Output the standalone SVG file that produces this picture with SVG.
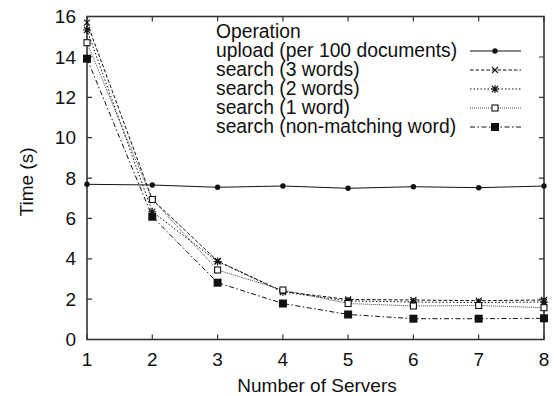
<svg xmlns="http://www.w3.org/2000/svg" xmlns:xlink="http://www.w3.org/1999/xlink" width="554" height="396" viewBox="0 0 554 396">
<style>
text{font-family:"Liberation Sans",Arial,sans-serif;font-size:19px;fill:#111}
#legend text{font-size:19.3px}
.yl{text-anchor:end}
.xl{text-anchor:middle}
.frame{fill:none;stroke:#333;stroke-width:1.6}
.tick{stroke:#333;stroke-width:1.2}
.s{fill:none;stroke:#111;stroke-width:1}
.up{}
.w3{stroke-dasharray:3.5 2}
.w2{stroke-dasharray:1.5 2}
.w1{stroke-dasharray:1 1;stroke:#444}
.nm{stroke-dasharray:5 2.5 1.5 2.5}
</style>
<defs>
<circle id="mdot" r="2.7" fill="#111"/>
<path id="mx" d="M-3,-3L3,3M-3,3L3,-3" stroke="#111" stroke-width="1.1" fill="none"/>
<path id="mast" d="M-3,-3L3,3M-3,3L3,-3M-4,0H4M0,-4V4" stroke="#111" stroke-width="1.1" fill="none"/>
<rect id="mosq" x="-3" y="-3" width="6" height="6" fill="#fff" stroke="#111" stroke-width="1.1"/>
<rect id="mfsq" x="-4" y="-4" width="8" height="8" fill="#111"/>
</defs>
<rect width="554" height="396" fill="#fff"/>
<g id="axes">
<rect class="frame" x="87" y="16.5" width="457" height="323"/>
<path class="tick" d="M87,339.5h5M87,299.1h5M87,258.8h5M87,218.4h5M87,178.1h5M87,137.7h5M87,97.4h5M87,57h5M87,16.5h5M544,339.5h-5M544,299.1h-5M544,258.8h-5M544,218.4h-5M544,178.1h-5M544,137.7h-5M544,97.4h-5M544,57h-5M544,16.5h-5M87,339.5v-5M152.3,339.5v-5M217.6,339.5v-5M282.9,339.5v-5M348.1,339.5v-5M413.4,339.5v-5M478.7,339.5v-5M544,339.5v-5M87,16.5v5M152.3,16.5v5M217.6,16.5v5M282.9,16.5v5M348.1,16.5v5M413.4,16.5v5M478.7,16.5v5M544,16.5v5"/>
<text class="yl" x="76" y="346">0</text>
<text class="yl" x="76" y="305.6">2</text>
<text class="yl" x="76" y="265.3">4</text>
<text class="yl" x="76" y="224.9">6</text>
<text class="yl" x="76" y="184.6">8</text>
<text class="yl" x="76" y="144.2">10</text>
<text class="yl" x="76" y="103.9">12</text>
<text class="yl" x="76" y="63.5">14</text>
<text class="yl" x="76" y="23">16</text>
<text class="xl" x="87" y="366">1</text>
<text class="xl" x="152.3" y="366">2</text>
<text class="xl" x="217.6" y="366">3</text>
<text class="xl" x="282.9" y="366">4</text>
<text class="xl" x="348.1" y="366">5</text>
<text class="xl" x="413.4" y="366">6</text>
<text class="xl" x="478.7" y="366">7</text>
<text class="xl" x="544" y="366">8</text>
<text class="xl" x="317" y="392">Number of Servers</text>
<text class="xl" transform="translate(33,182) rotate(-90)">Time (s)</text>
</g>
<g id="series-upload">
<polyline class="s up" points="87,184.3 152.3,185 217.6,187.3 282.9,186 348.1,188.3 413.4,186.7 478.7,187.7 544,186"/>
<use xlink:href="#mdot" x="87" y="184.3"/><use xlink:href="#mdot" x="152.3" y="185"/><use xlink:href="#mdot" x="217.6" y="187.3"/><use xlink:href="#mdot" x="282.9" y="186"/><use xlink:href="#mdot" x="348.1" y="188.3"/><use xlink:href="#mdot" x="413.4" y="186.7"/><use xlink:href="#mdot" x="478.7" y="187.7"/><use xlink:href="#mdot" x="544" y="186"/>
</g>
<g id="series-3words">
<polyline class="s w3" points="87,22.7 152.3,199.5 217.6,261 282.9,291.5 348.1,299.5 413.4,300 478.7,300.7 544,300"/>
<use xlink:href="#mx" x="87" y="22.7"/><use xlink:href="#mx" x="152.3" y="199.5"/><use xlink:href="#mx" x="217.6" y="261"/><use xlink:href="#mx" x="282.9" y="291.5"/><use xlink:href="#mx" x="348.1" y="299.5"/><use xlink:href="#mx" x="413.4" y="300"/><use xlink:href="#mx" x="478.7" y="300.7"/><use xlink:href="#mx" x="544" y="300"/>
</g>
<g id="series-2words">
<polyline class="s w2" points="87,30 152.3,211.7 217.6,261.5 282.9,292 348.1,301 413.4,302 478.7,302.5 544,302"/>
<use xlink:href="#mast" x="87" y="30"/><use xlink:href="#mast" x="152.3" y="211.7"/><use xlink:href="#mast" x="217.6" y="261.5"/><use xlink:href="#mast" x="282.9" y="292"/><use xlink:href="#mast" x="348.1" y="301"/><use xlink:href="#mast" x="413.4" y="302"/><use xlink:href="#mast" x="478.7" y="302.5"/><use xlink:href="#mast" x="544" y="302"/>
</g>
<g id="series-1word">
<polyline class="s w1" points="87,42.7 152.3,199.5 217.6,270 282.9,290 348.1,303.5 413.4,306 478.7,305.5 544,307.7"/>
<use xlink:href="#mosq" x="87" y="42.7"/><use xlink:href="#mosq" x="152.3" y="199.5"/><use xlink:href="#mosq" x="217.6" y="270"/><use xlink:href="#mosq" x="282.9" y="290"/><use xlink:href="#mosq" x="348.1" y="303.5"/><use xlink:href="#mosq" x="413.4" y="306"/><use xlink:href="#mosq" x="478.7" y="305.5"/><use xlink:href="#mosq" x="544" y="307.7"/>
</g>
<g id="series-nonmatching">
<polyline class="s nm" points="87,58.7 152.3,216.7 217.6,282.7 282.9,303.5 348.1,314.5 413.4,318.7 478.7,318.7 544,318.3"/>
<use xlink:href="#mfsq" x="87" y="58.7"/><use xlink:href="#mfsq" x="152.3" y="216.7"/><use xlink:href="#mfsq" x="217.6" y="282.7"/><use xlink:href="#mfsq" x="282.9" y="303.5"/><use xlink:href="#mfsq" x="348.1" y="314.5"/><use xlink:href="#mfsq" x="413.4" y="318.7"/><use xlink:href="#mfsq" x="478.7" y="318.7"/><use xlink:href="#mfsq" x="544" y="318.3"/>
</g>
<g id="legend">
<text x="216" y="38">Operation</text>
<text x="216" y="57">upload (per 100 documents)</text>
<text x="216" y="76">search (3 words)</text>
<text x="216" y="95">search (2 words)</text>
<text x="216" y="114">search (1 word)</text>
<text x="216" y="133">search (non-matching word)</text>
<line class="s up" x1="470" y1="51" x2="521" y2="51"/><use xlink:href="#mdot" x="495" y="51"/>
<line class="s w3" x1="470" y1="70" x2="521" y2="70"/><use xlink:href="#mx" x="495" y="70"/>
<line class="s w2" x1="470" y1="89" x2="521" y2="89"/><use xlink:href="#mast" x="495" y="89"/>
<line class="s w1" x1="470" y1="108" x2="521" y2="108"/><use xlink:href="#mosq" x="495" y="108"/>
<line class="s nm" x1="470" y1="127" x2="521" y2="127"/><use xlink:href="#mfsq" x="495" y="127"/>
</g>
</svg>
